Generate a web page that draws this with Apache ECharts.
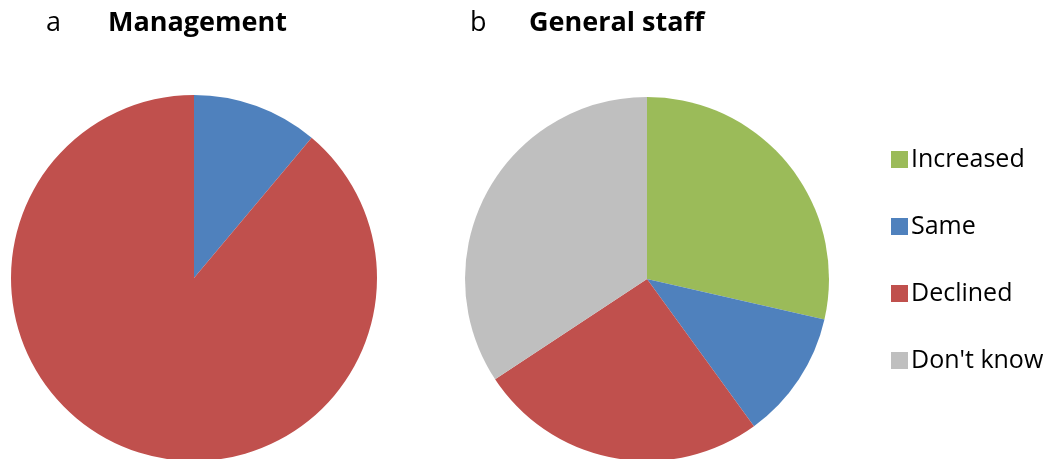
<!DOCTYPE html>
<html>
<head>
<meta charset="utf-8">
<script src="https://cdn.jsdelivr.net/npm/echarts@6/dist/echarts.min.js"></script>
<style>
  html, body { margin: 0; padding: 0; background: #fff; }
  #chart { width: 1054px; height: 459px; }
</style>
</head>
<body>
<div id="chart"></div>
<script>
const categories = ['Increased', 'Same', 'Declined', "Don't know"]
const colors = ['#9BBB59', '#4F81BD', '#C0504D', '#BFBFBF']
// counts
const management = [0, 1, 8, 0]
const generalStaff = [10, 4, 9, 12]

const font = '"Open Sans", sans-serif'

function toData(values) {
    return categories.map((name, i) => ({
        name: name,
        value: values[i],
        itemStyle: { color: colors[i] }
    }))
}

const option = {
    animation: false,
    textStyle: { fontFamily: font },
    title: [
        { text: 'a', left: 41, top: 5, textStyle: { fontSize: 27, fontWeight: 'normal', color: '#000', fontFamily: font } },
        { text: 'Management', left: 103, top: 5, textStyle: { fontSize: 27, fontWeight: 'bold', color: '#000', fontFamily: font } },
        { text: 'b', left: 465, top: 5, textStyle: { fontSize: 27, fontWeight: 'normal', color: '#000', fontFamily: font } },
        { text: 'General staff', left: 524, top: 5, textStyle: { fontSize: 27, fontWeight: 'bold', color: '#000', fontFamily: font } }
    ],
    legend: {
        orient: 'vertical',
        left: 886,
        top: 142,
        icon: 'rect',
        itemWidth: 17,
        itemHeight: 17,
        itemGap: 42,
        data: categories,
        textStyle: { fontSize: 25, color: '#000', fontFamily: font, padding: [0, 0, 0, -2] }
    },
    series: [
        {
            name: 'Management',
            type: 'pie',
            center: [194, 278],
            radius: 183,
            startAngle: 90,
            clockwise: true,
            label: { show: false },
            labelLine: { show: false },
            itemStyle: { borderWidth: 0 },
            emphasis: { disabled: true },
            data: toData(management)
        },
        {
            name: 'General staff',
            type: 'pie',
            center: [647, 279],
            radius: 182,
            startAngle: 90,
            clockwise: true,
            label: { show: false },
            labelLine: { show: false },
            itemStyle: { borderWidth: 0 },
            emphasis: { disabled: true },
            data: toData(generalStaff)
        }
    ]
}

const chart = echarts.init(document.getElementById('chart'))
chart.setOption(option)
</script>
</body>
</html>
